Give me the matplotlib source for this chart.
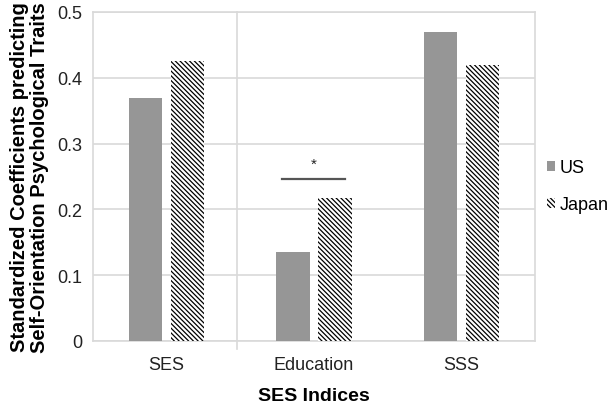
import matplotlib
matplotlib.use("Agg")
import matplotlib.pyplot as plt
import numpy as np

categories = ["SES", "Education", "SSS"]
us_values = [0.370, 0.135, 0.469]
japan_values = [0.426, 0.217, 0.420]
yticks = [0, 0.1, 0.2, 0.3, 0.4, 0.5]
ytick_labels = ["0", "0.1", "0.2", "0.3", "0.4", "0.5"]
sig_y = 0.246

plt.rcParams['font.family'] = ['Liberation Sans', 'DejaVu Sans']
plt.rcParams['hatch.linewidth'] = 0.9

fig = plt.figure(figsize=(6.11, 4.10), dpi=100)
ax = fig.add_axes([93/611, 1-342/410, 442/611, 329/410])

x = np.arange(len(categories))
w = 0.225
off = 0.143
grid_c = "#d9d9d9"

ax.bar(x - off, us_values, w, color="#969696", label="US", zorder=3)
ax.bar(x + off, japan_values, w, color="white", edgecolor="black", linewidth=0,
       hatch="\\\\\\\\\\\\\\", label="Japan", zorder=3)

ax.set_xlim(-0.5, 2.5)
ax.set_ylim(0, 0.5)
ax.set_yticks(yticks)
ax.set_yticklabels(ytick_labels, fontsize=13, color="#222222")
ax.set_xticks(x)
ax.set_xticklabels(categories, fontsize=13, color="#222222")
ax.tick_params(axis='both', length=0, pad=8)
ax.tick_params(axis='x', pad=11)
ax.yaxis.grid(True, color=grid_c, linewidth=1.2, zorder=0)
for s in ax.spines.values():
    s.set_color(grid_c)
    s.set_linewidth(1.2)

ax.plot([0.48, 0.48], [-0.012, 0.5], color=grid_c, linewidth=1.2, clip_on=False, zorder=1)

ax.plot([1 - 0.22, 1 + 0.21], [sig_y, sig_y], color="#555555", linewidth=1.6, zorder=4)
ax.text(1, sig_y + 0.012, "*", ha="center", va="bottom", fontsize=11, color="#222222")

ax.set_xlabel("SES Indices", fontsize=14, fontweight="bold", labelpad=10)
ax.set_ylabel("Standardized Coefficients predicting\nSelf-Orientation Psychological Traits",
              fontsize=14.5, fontweight="bold", labelpad=6, linespacing=1.05)

leg = ax.legend(loc="center left", bbox_to_anchor=(1.027, 0.47), frameon=False,
                fontsize=13, handlelength=0.45, handleheight=0.45, handletextpad=0.25,
                labelspacing=1.1, borderpad=0, borderaxespad=0)

fig.savefig("out.png", dpi=100)
